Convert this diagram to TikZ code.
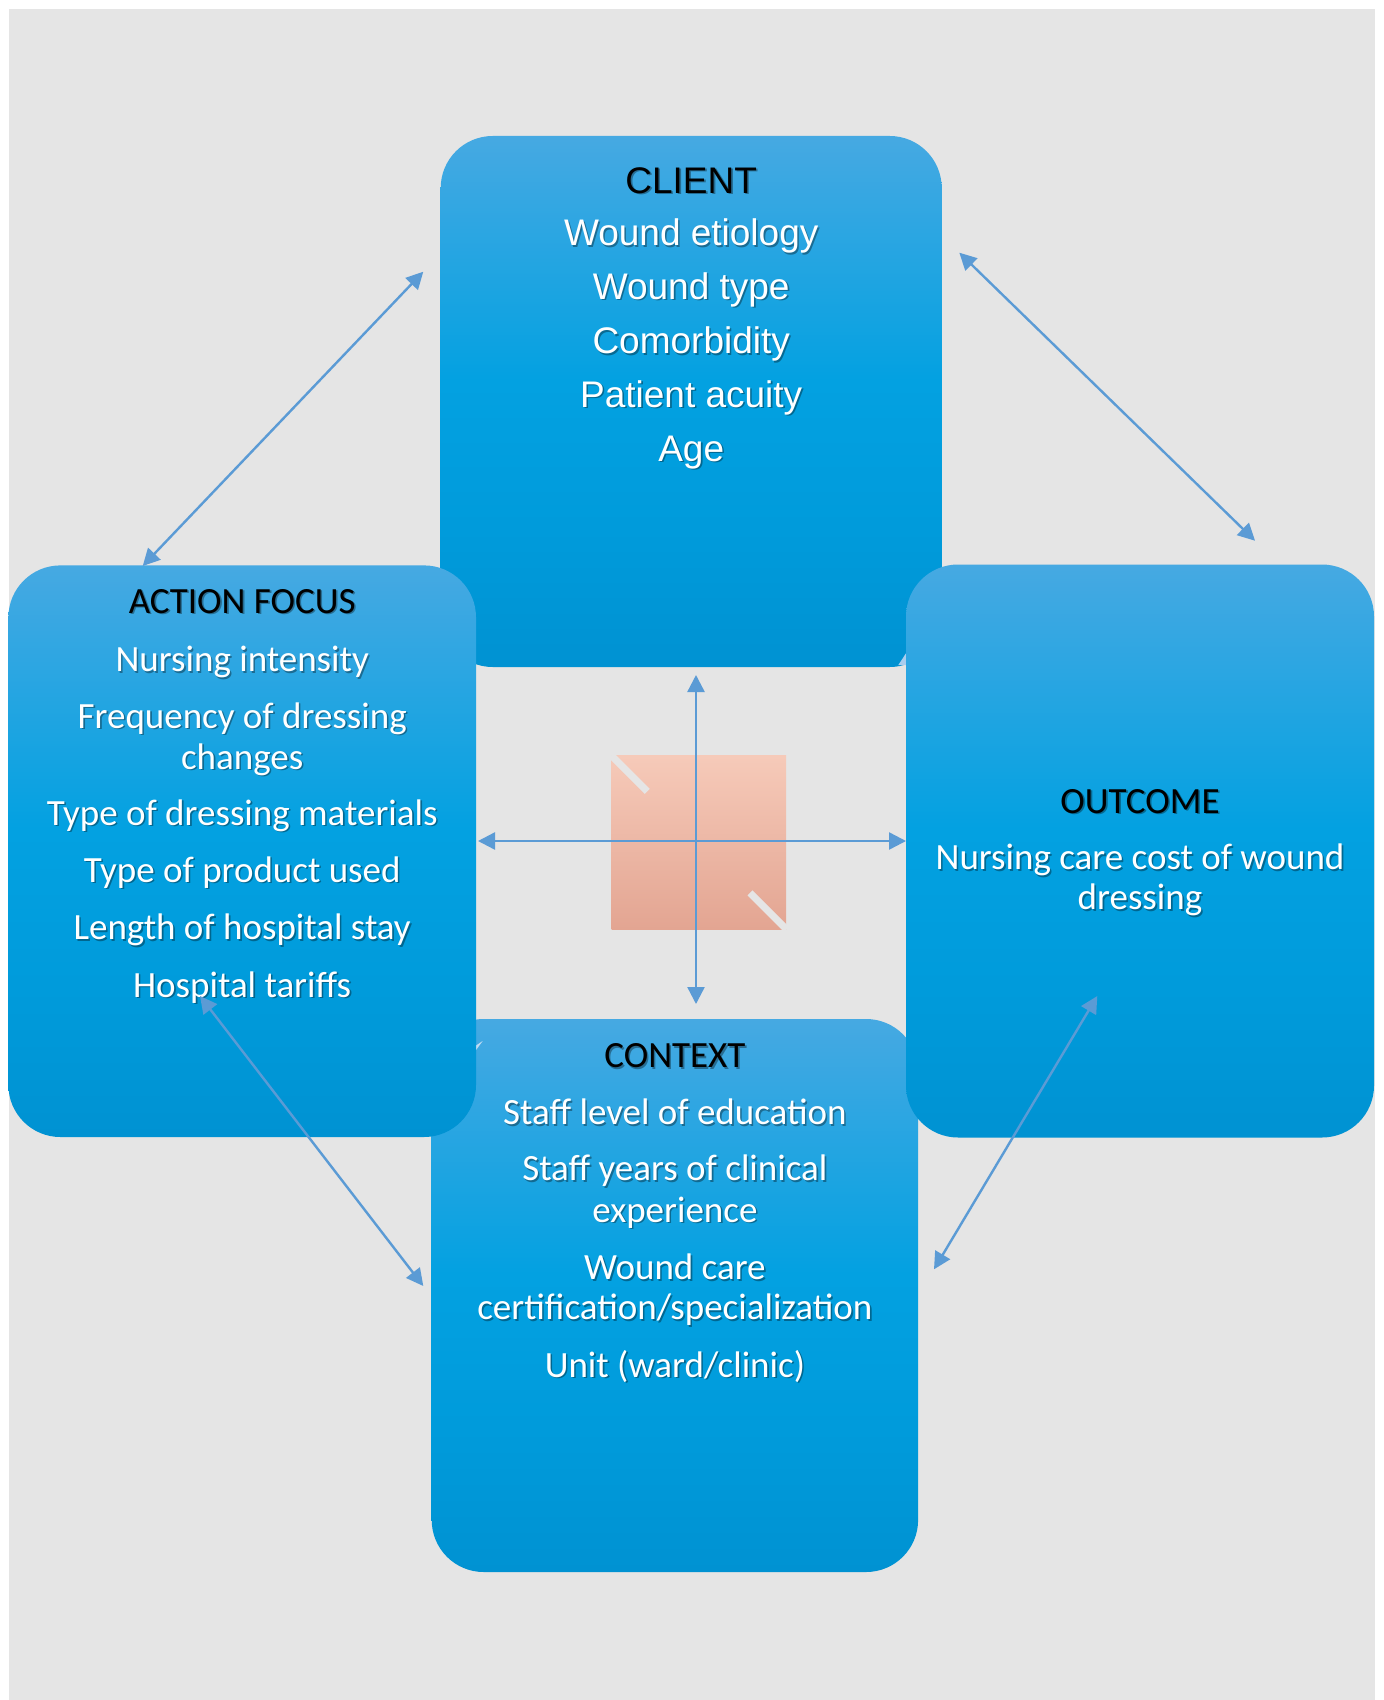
\documentclass[tikz,border=0pt]{standalone}
\usepackage{fontspec}
\setmainfont{Carlito}
\newfontfamily\arialfont{Liberation Sans}
\usetikzlibrary{arrows.meta}

\definecolor{pagebg}{HTML}{E5E5E5}
\definecolor{boxtop}{HTML}{46A9E2}
\definecolor{boxmid}{HTML}{03A1E1}
\definecolor{boxlow}{HTML}{009BDB}
\definecolor{boxbot}{HTML}{0092D2}
\definecolor{linkc}{HTML}{5B9BD5}
\definecolor{peachtop}{HTML}{F6CAB9}
\definecolor{peachmid}{HTML}{F8BEA9}
\definecolor{peachbot}{HTML}{E3A592}
\definecolor{glint}{HTML}{A9CDEE}

% panel fill: light at the top, bright blue from about 45% down, deeper at the bottom
\pgfdeclareverticalshading{panelshade}{100bp}{%
  color(0bp)=(boxbot); color(25bp)=(boxbot); color(38bp)=(boxlow);
  color(52bp)=(boxmid); color(75bp)=(boxtop); color(100bp)=(boxtop)}

\tikzset{
  panel/.style={rectangle, rounded corners=26pt, inner sep=0pt, outer sep=0pt,
    shading=panelshade, shading angle=0, draw=none},
  txt/.style={anchor=base, inner sep=0pt, outer sep=0pt,
    font=\fontsize{18.5}{22}\selectfont},
  arialtxt/.style={txt, font=\arialfont\fontsize{18.5}{22}\selectfont},
  heading/.style={text=black},
  item/.style={text=white},
  shade/.style={text=black, opacity=0.35, xshift=0.8pt, yshift=-0.8pt},
  link/.style={draw=linkc, line width=1.2pt,
    {Triangle[length=8.5pt,width=8.5pt]}-{Triangle[length=8.5pt,width=8.5pt]}},
}

% one line of text with a soft drop shadow
\newcommand{\shtext}[5]{%
  \node[#4, shade] at (#2,#3) {#5};
  \node[#4] (#1) at (#2,#3) {#5};}

\begin{document}
\begin{tikzpicture}[x=0.5pt, y=-0.5pt]
  \useasboundingbox (0,0) rectangle (1384,1700);
  \fill[white] (0,0) rectangle (1384,1700);
  \fill[pagebg] (9,9) rectangle (1375,1700);

  % the four panels
  \node[panel, minimum width=250.5pt, minimum height=265.5pt] (client) at (691.2,401.5) {};
  \node[panel, minimum width=243.2pt, minimum height=276.5pt] (context) at (674.9,1295.5) {};
  \fill[glint] (898.3,665) -- (906,653.3) -- (906,665) -- cycle;
  \fill[glint!70!white] (476,1050) -- (482.7,1041) -- (476,1045.5) -- cycle;
  \node[panel, minimum width=233.8pt, minimum height=285.8pt] (action) at (242.2,851.2) {};
  \node[panel, minimum width=234pt, minimum height=286.5pt] (outcome) at (1140,851) {};

  % central square with its two diagonal slits
  \node[rectangle, inner sep=0pt, minimum width=87.2pt, minimum height=86.6pt,
        top color=peachtop, middle color=peachmid, bottom color=peachbot] (core) at (698.9,842.4) {};
  \draw[pagebg, line width=3.5pt] (core.north west) -- ++(36,36);
  \draw[pagebg, line width=3.5pt] (core.south east) -- ++(-36.5,-36.5);

  % CLIENT
  \shtext{c0}{691.2}{193.2}{arialtxt, heading}{CLIENT}
  \shtext{c1}{691.2}{245.7}{arialtxt, item}{Wound etiology}
  \shtext{c2}{691.2}{299.3}{arialtxt, item}{Wound type}
  \shtext{c3}{691.2}{353.5}{arialtxt, item}{Comorbidity}
  \shtext{c4}{691.2}{407.3}{arialtxt, item}{Patient acuity}
  \shtext{c5}{691.2}{461}{arialtxt, item}{Age}

  % ACTION FOCUS
  \shtext{a0}{242.2}{613}{txt, heading}{ACTION FOCUS}
  \shtext{a1}{242.2}{671.7}{txt, item}{Nursing intensity}
  \shtext{a2}{242.2}{728}{txt, item}{Frequency of dressing}
  \shtext{a3}{242.2}{769}{txt, item}{changes}
  \shtext{a4}{242.2}{825}{txt, item}{Type of dressing materials}
  \shtext{a5}{242.2}{882.2}{txt, item}{Type of product used}
  \shtext{a6}{242.2}{939.6}{txt, item}{Length of hospital stay}
  \shtext{a7}{242.2}{997}{txt, item}{Hospital tariffs}

  % CONTEXT
  \shtext{x0}{674.9}{1067.7}{txt, heading}{CONTEXT}
  \shtext{x1}{674.9}{1124.4}{txt, item}{Staff level of education}
  \shtext{x2}{674.9}{1180.6}{txt, item}{Staff years of clinical}
  \shtext{x3}{674.9}{1222}{txt, item}{experience}
  \shtext{x4}{674.9}{1279.4}{txt, item}{Wound care}
  \shtext{x5}{674.9}{1319.6}{txt, item}{certification/specialization}
  \shtext{x6}{674.9}{1377}{txt, item}{Unit (ward/clinic)}

  % OUTCOME
  \shtext{o0}{1140}{813.3}{txt, heading}{OUTCOME}
  \shtext{o1}{1140}{869.6}{txt, item}{Nursing care cost of wound}
  \shtext{o2}{1140}{909.7}{txt, item}{dressing}

  % connector ends
  \coordinate (p1a) at (142.7,566);   \coordinate (p1b) at (423.3,271.7);
  \coordinate (p2a) at (959.3,252.7); \coordinate (p2b) at (1255,540.7);
  \coordinate (p3a) at (200,996);     \coordinate (p3b) at (423.3,1286);
  \coordinate (p4a) at (1097.3,996);  \coordinate (p4b) at (934,1269.3);
  \coordinate (vt) at (696,675);      \coordinate (vb) at (696,1004);
  \coordinate (hl) at (478,841);      \coordinate (hr) at (906,841);

  % connectors
  \draw[link] (p1a) -- (p1b);
  \draw[link] (p2a) -- (p2b);
  \draw[link] (p3a) -- (p3b);
  \draw[link] (p4a) -- (p4b);
  \draw[link] (vt) -- (vb);
  \draw[link] (hl) -- (hr);
\end{tikzpicture}
\end{document}
